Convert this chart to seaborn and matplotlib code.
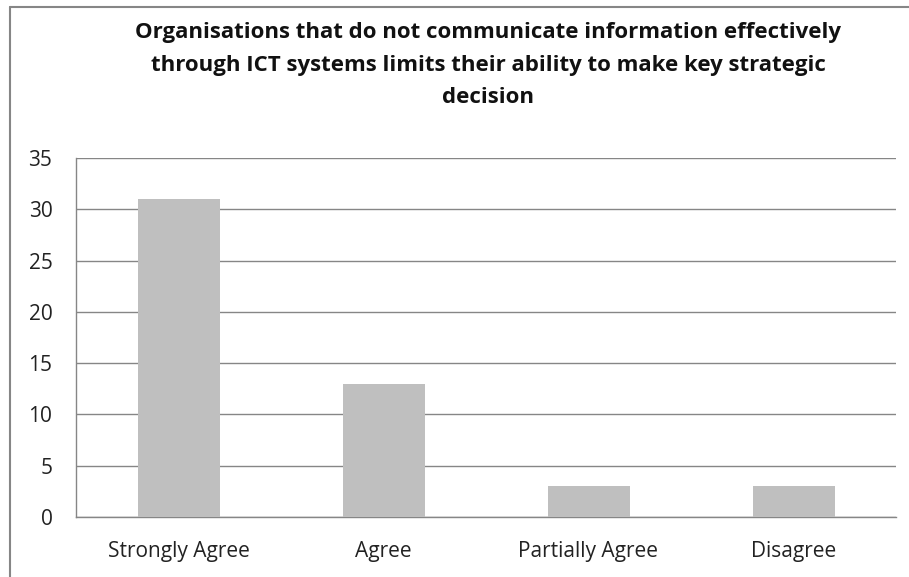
import seaborn as sns
import matplotlib.pyplot as plt
import pandas as pd
from matplotlib.lines import Line2D

categories = ["Strongly Agree", "Agree", "Partially Agree", "Disagree"]
counts = [31, 13, 3, 3]
yticks = [0, 5, 10, 15, 20, 25, 30, 35]
title = ("Organisations that do not communicate information effectively\n"
         "through ICT systems limits their ability to make key strategic\n"
         "decision")

sns.set_style("white")
plt.rcParams['font.family'] = ['Open Sans', 'DejaVu Sans']

df = pd.DataFrame({"response": categories, "count": counts})

fig = plt.figure(figsize=(9.09, 5.77), dpi=100)
ax = fig.add_axes([76 / 909, 1 - 517 / 577, 820 / 909, (517 - 158) / 577])

sns.barplot(data=df, x="response", y="count", order=categories,
            color="#BFBFBF", saturation=1, width=0.4, linewidth=0, ax=ax, zorder=3)

ax.set_ylim(0, 35)
ax.set_yticks(yticks)
ax.set_yticklabels([str(t) for t in yticks], fontsize=15, color="#222222")
ax.tick_params(axis='x', labelsize=15, colors="#222222", pad=17, length=0)
ax.tick_params(axis='y', pad=17, length=0)
ax.set_xlabel("")
ax.set_ylabel("")
ax.grid(axis='y', color="#868686", linewidth=1.0, zorder=0)
ax.set_axisbelow(True)
for s in ["top", "right"]:
    ax.spines[s].set_visible(False)
for s in ["left", "bottom"]:
    ax.spines[s].set_color("#868686")
    ax.spines[s].set_linewidth(1.0)

fig.text(488 / 909, 1 - 22 / 577, title, ha='center', va='top',
         fontsize=16, fontweight='bold', linespacing=1.72, color="#111111")

# chart frame (left and top edges visible)
fig.add_artist(Line2D([10 / 909, 10 / 909], [0, 1 - 7 / 577], transform=fig.transFigure,
                      color="#868686", linewidth=1.5))
fig.add_artist(Line2D([10 / 909, 1], [1 - 7 / 577, 1 - 7 / 577], transform=fig.transFigure,
                      color="#868686", linewidth=1.5))

fig.savefig("out.png", dpi=100)
